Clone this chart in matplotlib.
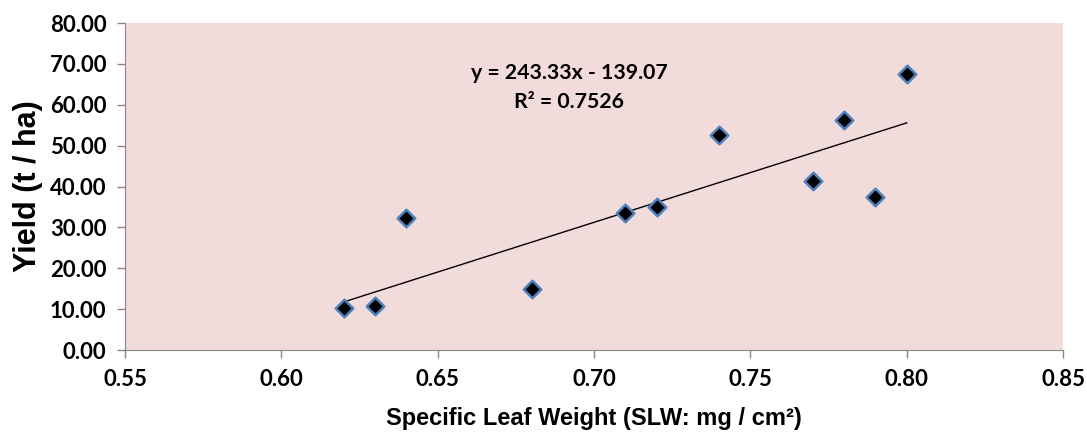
import numpy as np
import matplotlib.pyplot as plt

# Specific leaf weight vs yield
slw = [0.62, 0.63, 0.64, 0.68, 0.71, 0.72, 0.74, 0.77, 0.78, 0.79, 0.80]
yield_t_ha = [10.3, 10.8, 32.3, 14.9, 33.5, 35.0, 52.6, 41.3, 56.2, 37.4, 67.5]

# trendline as printed on the chart
slope = 243.33
intercept = -139.07
r2 = 0.7526

fig = plt.figure(figsize=(10.87, 4.36), dpi=100)
ax = fig.add_axes([0.115, 0.197, 0.863, 0.75])
ax.set_facecolor('#F2DCDB')

x_fit = np.array([min(slw), max(slw)])
ax.plot(x_fit, slope * x_fit + intercept, color='black', lw=1.0, zorder=2)

ax.scatter(slw, yield_t_ha, marker='D', s=80, c='black',
           edgecolors='#4F81BD', linewidths=1.8, zorder=3)

ax.set_xlim(0.55, 0.85)
ax.set_ylim(0, 80)
ax.set_xticks(np.arange(0.55, 0.851, 0.05))
ax.set_yticks(np.arange(0, 81, 10))
ax.set_xticklabels([f'{v:.2f}' for v in np.arange(0.55, 0.851, 0.05)])
ax.set_yticklabels([f'{v:.2f}' for v in np.arange(0, 81, 10)])

for s in ['top', 'right']:
    ax.spines[s].set_visible(False)
for s in ['left', 'bottom']:
    ax.spines[s].set_color('#868686')
ax.tick_params(direction='out', length=5.5, color='#868686', width=1, pad=8)
for lbl in ax.get_xticklabels() + ax.get_yticklabels():
    lbl.set_fontfamily('Lato')
    lbl.set_fontweight('bold')
    lbl.set_fontsize(16)

ax.set_xlabel('Specific Leaf Weight (SLW: mg / cm²)',
              fontfamily='Liberation Sans', fontweight='bold', fontsize=17, labelpad=12)
ax.set_ylabel('Yield (t / ha)', fontfamily='Liberation Sans',
              fontweight='bold', fontsize=22, labelpad=5)

ax.text(0.692, 67.8, f'y = {slope}x - {abs(intercept)}', ha='center', va='center',
        fontfamily='Lato', fontsize=15.3, fontweight='bold')
ax.text(0.692, 60.7, f'R² = {r2}', ha='center', va='center',
        fontfamily='Lato', fontsize=15.3, fontweight='bold')

fig.savefig('out.png', dpi=100)
